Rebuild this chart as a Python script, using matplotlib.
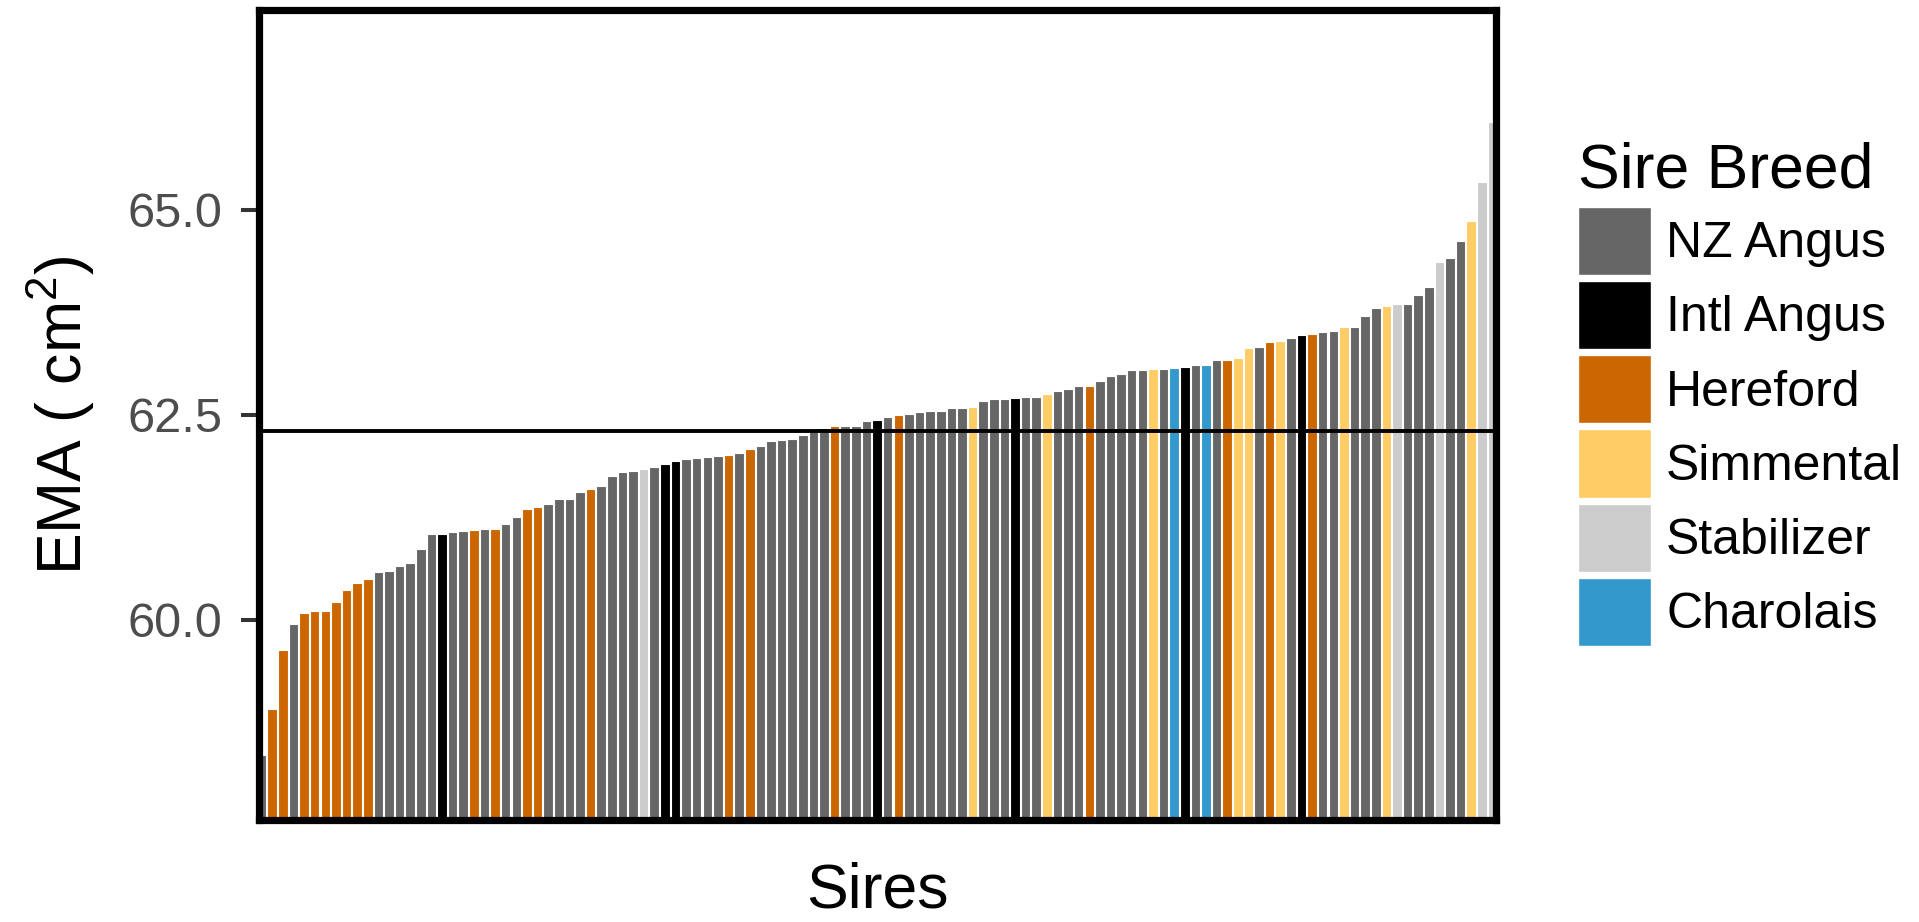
import matplotlib
matplotlib.use("Agg")
from matplotlib import pyplot as plt
from matplotlib.patches import Patch

plt.rcParams['font.family'] = ['Liberation Sans', 'DejaVu Sans']
plt.rcParams['mathtext.fontset'] = 'custom'
plt.rcParams['mathtext.rm'] = 'Liberation Sans'
plt.rcParams['mathtext.it'] = 'Liberation Sans'

# sires sorted by EMA, breed code per sire
ema = [58.35, 58.92, 59.63, 59.95, 60.09, 60.11, 60.11, 60.22, 60.37, 60.45,
       60.50, 60.59, 60.60, 60.66, 60.69, 60.86, 61.05, 61.05, 61.07, 61.09,
       61.10, 61.11, 61.11, 61.17, 61.25, 61.35, 61.38, 61.41, 61.48, 61.48,
       61.56, 61.60, 61.64, 61.75, 61.80, 61.82, 61.84, 61.86, 61.90, 61.94,
       61.96, 61.97, 61.99, 62.00, 62.01, 62.04, 62.08, 62.12, 62.18, 62.19,
       62.21, 62.26, 62.30, 62.34, 62.36, 62.37, 62.37, 62.43, 62.44, 62.47,
       62.50, 62.51, 62.54, 62.55, 62.55, 62.58, 62.59, 62.60, 62.67, 62.69,
       62.70, 62.71, 62.72, 62.72, 62.76, 62.79, 62.82, 62.85, 62.85, 62.92,
       62.97, 63.00, 63.05, 63.05, 63.06, 63.06, 63.07, 63.09, 63.11, 63.11,
       63.17, 63.17, 63.20, 63.32, 63.33, 63.39, 63.40, 63.44, 63.48, 63.49,
       63.51, 63.53, 63.57, 63.57, 63.71, 63.80, 63.83, 63.85, 63.85, 63.96,
       64.06, 64.37, 64.41, 64.62, 64.86, 65.34, 66.07]
# N=NZ Angus I=Intl Angus H=Hereford S=Simmental T=Stabilizer C=Charolais
breed_code = ("NHHNHHHHHH" "HNNNNNNINN" "HNHNNHHNNN" "NHNNNNTNII"
              "NNNNHNHNNN" "NNNNHNNNIN" "HNNNNNNSNN" "NINNSNNNHN"
              "NNNNSNCINC" "NHSSNHSNIH" "NNSNNNSTNN" "NTNNSTT")
mean_ema = 62.30

breeds = ["NZ Angus", "Intl Angus", "Hereford", "Simmental", "Stabilizer", "Charolais"]
codes = ["N", "I", "H", "S", "T", "C"]
colors = ["#666666", "#000000", "#CC6600", "#FFCC66", "#CCCCCC", "#3399CC"]
col = dict(zip(codes, colors))

fig = plt.figure(figsize=(19.19, 9.22), dpi=100)
ax = fig.add_axes([0.1348, 0.1110, 0.6446, 0.8778])

x = range(len(ema))
ax.bar(x, ema, width=0.9, color=[col[c] for c in breed_code],
       edgecolor="white", linewidth=0.8)
ax.axhline(mean_ema, color="black", linewidth=2.8, zorder=3)

ax.set_xlim(-0.28, len(ema) - 1 + 0.30)
ax.set_ylim(57.565, 67.435)
ax.set_xticks([])
ax.set_yticks([60.0, 62.5, 65.0])
ax.set_yticklabels(["60.0", "62.5", "65.0"])
ax.tick_params(axis="y", length=13, width=2.9, color="#333333",
               labelsize=35, labelcolor="#4D4D4D", pad=13)
for s in ax.spines.values():
    s.set_linewidth(5.2)
    s.set_color("black")
    s.set_zorder(5)

ax.set_xlabel("Sires", fontsize=45, labelpad=30)
ax.set_ylabel("EMA ( cm$^2$)", fontsize=45, labelpad=22)

handles = [Patch(facecolor=c, edgecolor="white", linewidth=1.0) for c in colors]
leg = fig.legend(handles, breeds, title="Sire Breed", loc="upper left",
                 bbox_to_anchor=(1578 / 1919, 1 - 142 / 922), frameon=False,
                 fontsize=36, title_fontsize=45, handlelength=1.46,
                 handleheight=1.72, labelspacing=0.12, handletextpad=0.3,
                 borderpad=0, borderaxespad=0, alignment="left")

fig.savefig("out.png", dpi=100)
